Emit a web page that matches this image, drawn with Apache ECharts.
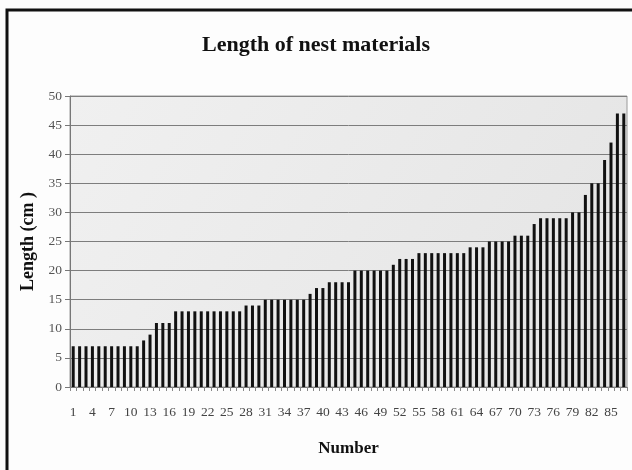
<!DOCTYPE html>
<html>
<head>
<meta charset="utf-8">
<script src="https://cdn.jsdelivr.net/npm/echarts@6/dist/echarts.min.js"></script>
<style>
html,body{margin:0;padding:0;background:#fff;}
#c{width:632px;height:470px;}
</style>
</head>
<body>
<div id="c"></div>
<script>
var categories = [];
for (var i = 1; i <= 87; i++) categories.push(String(i));
var lengths = [
  7,7,7,7,7,7,7,7,7,7,7,
  8,9,
  11,11,11,
  13,13,13,13,13,13,13,13,13,13,13,
  14,14,14,
  15,15,15,15,15,15,15,
  16,17,17,
  18,18,18,18,
  20,20,20,20,20,20,
  21,
  22,22,22,
  23,23,23,23,23,23,23,23,
  24,24,24,
  25,25,25,25,
  26,26,26,
  28,
  29,29,29,29,29,
  30,30,
  33,35,35,39,42,47,47
];
var yTicks = [0,5,10,15,20,25,30,35,40,45,50];

var chart = echarts.init(document.getElementById('c'), null, {renderer:'canvas'});
var serif = '"Liberation Serif", "DejaVu Serif", serif';
chart.setOption({
  animation: false,
  backgroundColor: '#fdfdfd',
  title: {
    text: 'Length of nest materials',
    left: 'center',
    top: 29,
    textStyle: {fontFamily: serif, fontWeight: 'bold', fontSize: 22, color: '#111'}
  },
  graphic: [{
    type: 'rect',
    shape: {x: 7, y: 10, width: 640, height: 470},
    style: {fill: 'none', stroke: '#111', lineWidth: 3},
    silent: true
  }],
  grid: {
    left: 70, right: 5, top: 96, bottom: 83,
    show: true,
    backgroundColor: {
      type: 'linear', x: 0, y: 0, x2: 1, y2: 1,
      colorStops: [{offset: 0, color: '#f0f0f0'}, {offset: 1, color: '#e4e4e4'}]
    },
    borderColor: '#9a9a9a', borderWidth: 1
  },
  xAxis: {
    type: 'category',
    data: categories,
    name: 'Number',
    nameLocation: 'middle',
    nameGap: 53,
    nameTextStyle: {fontFamily: serif, fontWeight: 'bold', fontSize: 17, color: '#111'},
    axisLine: {lineStyle: {color: '#777', width: 1}},
    axisTick: {show: true, length: 4, interval: 0, lineStyle: {color: '#888'}},
    axisLabel: {interval: 2, margin: 18, fontFamily: serif, fontSize: 13.5, color: '#444'}
  },
  yAxis: {
    type: 'value',
    min: 0, max: 50, interval: 5,
    name: 'Length (cm )',
    nameLocation: 'middle',
    nameGap: 33,
    nameTextStyle: {fontFamily: serif, fontWeight: 'bold', fontSize: 18, color: '#111'},
    axisLine: {show: true, lineStyle: {color: '#777', width: 1}},
    axisTick: {show: true, length: 5, lineStyle: {color: '#777'}},
    axisLabel: {margin: 8, fontFamily: serif, fontSize: 13.5, color: '#555',
      formatter: function (v) { return yTicks.indexOf(v) >= 0 ? String(v) : ''; }},
    splitLine: {show: true, lineStyle: {color: '#7d7d7d', width: 1}}
  },
  series: [{
    type: 'bar',
    data: lengths,
    barWidth: 3,
    itemStyle: {color: '#111'}
  }]
});
</script>
</body>
</html>
